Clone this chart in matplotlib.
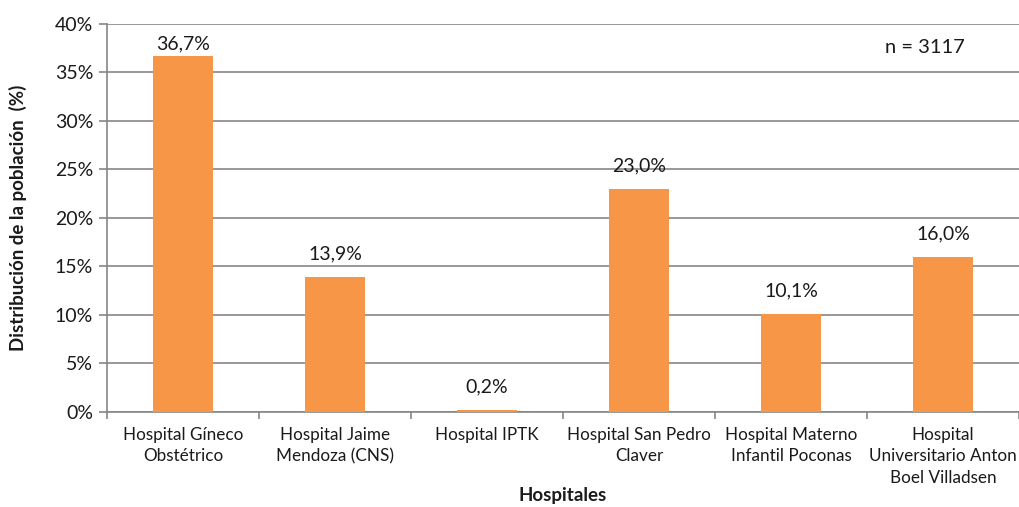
import matplotlib.pyplot as plt
import numpy as np

hospitales = [
    'Hospital Gíneco\nObstétrico',
    'Hospital Jaime\nMendoza (CNS)',
    'Hospital IPTK',
    'Hospital San Pedro\nClaver',
    'Hospital Materno\nInfantil Poconas',
    'Hospital\nUniversitario Anton\nBoel Villadsen',
]
porcentajes = [36.7, 13.9, 0.2, 23.0, 10.1, 16.0]
etiquetas = ['36,7%', '13,9%', '0,2%', '23,0%', '10,1%', '16,0%']
yticks = [0, 5, 10, 15, 20, 25, 30, 35, 40]

plt.rcParams['font.family'] = ['Lato', 'DejaVu Sans']
grid_color = '#868686'
text_color = '#1a1a1a'

fig = plt.figure(figsize=(10.19, 5.07), dpi=100)
ax = fig.add_axes([0.105, 0.1874, 0.895, 0.7653])

x = np.arange(len(hospitales))
ax.bar(x, porcentajes, width=0.4, color='#F79646', zorder=3)

# etiquetas de valor, la primera queda limitada por el borde superior
for xi, v, lab in zip(x, porcentajes, etiquetas):
    ax.text(xi, min(v + 2.4, 37.9), lab, ha='center', va='center',
            fontsize=14, color=text_color)

ax.set_xlim(-0.5, len(hospitales) - 0.5)
ax.set_ylim(0, 40)
ax.set_yticks(yticks)
ax.set_yticklabels([f'{t}%' for t in yticks], fontsize=14, color=text_color)
ax.yaxis.grid(True, color=grid_color, linewidth=1.2, zorder=0)
ax.tick_params(axis='y', length=6, color=grid_color, width=1.2, pad=4)

ax.set_xticks(x)
ax.set_xticklabels(hospitales, fontsize=12.3, linespacing=1.4, color=text_color)
ax.set_xticks(np.arange(-0.5, len(hospitales)), minor=True)
ax.tick_params(axis='x', which='major', length=0, pad=11)
ax.tick_params(axis='x', which='minor', length=5, color=grid_color, width=1.2)

for side in ['top', 'right']:
    ax.spines[side].set_visible(False)
for side in ['left', 'bottom']:
    ax.spines[side].set_color(grid_color)
    ax.spines[side].set_linewidth(1.2)

ax.text(4.88, 37.6, 'n = 3117', ha='center', va='center', fontsize=14.5, color=text_color)

ax.set_ylabel('Distribución de la población  (%)', fontsize=13.5, fontweight='bold', color=text_color)
ax.set_xlabel('Hospitales', fontsize=13.5, fontweight='bold', color=text_color)
ax.yaxis.label.set_va('center')
ax.xaxis.label.set_va('center')
ax.yaxis.set_label_coords(-0.0976, 0.5)
ax.xaxis.set_label_coords(0.5, -0.216)

fig.savefig('out.png', dpi=100)
